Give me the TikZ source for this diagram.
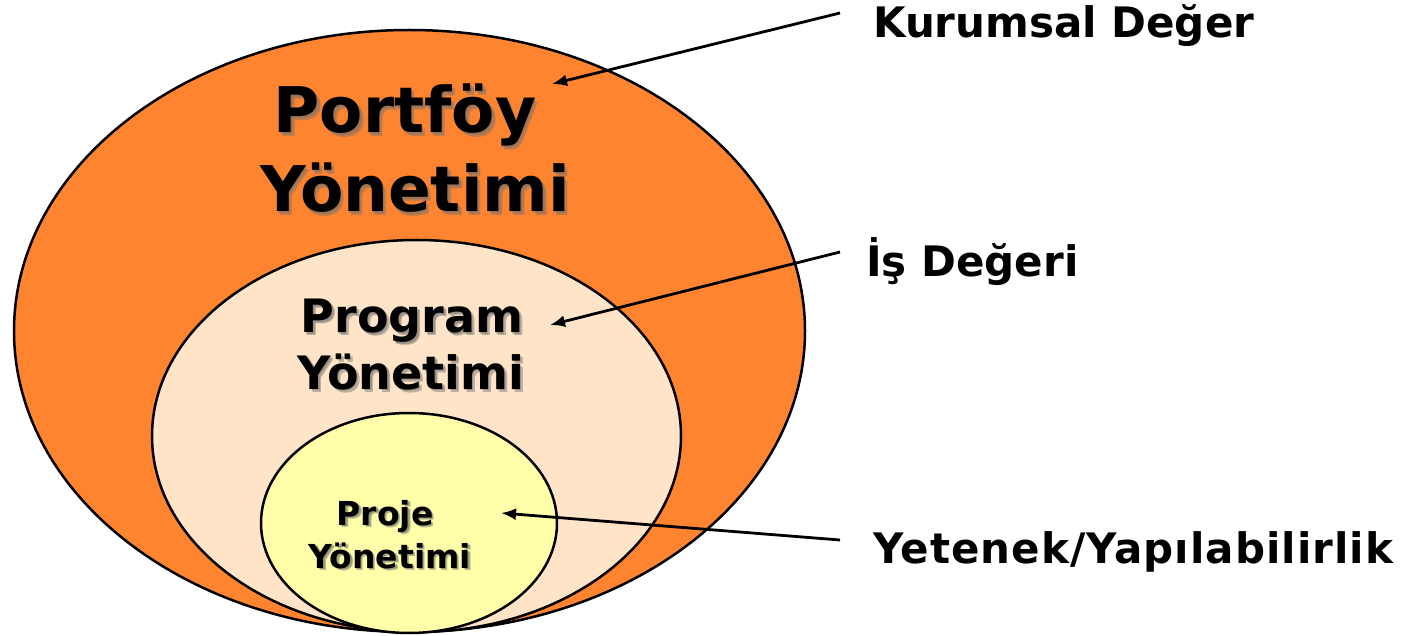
\documentclass[tikz,border=0pt]{standalone}
\usepackage{fontspec}
\setmainfont{DejaVu Sans}
\usetikzlibrary{arrows.meta,shapes.geometric}
\definecolor{orangeF}{RGB}{254,132,48}
\definecolor{peachF}{RGB}{255,228,200}
\definecolor{yellowF}{RGB}{255,255,170}
\definecolor{shadowC}{RGB}{110,110,110}
\tikzset{
  ring/.style={draw=black, line width=2.5pt, ellipse, inner sep=0pt},
  big/.style={font=\bfseries\fontsize{63}{70}\selectfont, anchor=base, inner sep=0pt},
  mid/.style={font=\bfseries\fontsize{46}{52}\selectfont, anchor=base, inner sep=0pt},
  small/.style={font=\bfseries\fontsize{33}{38}\selectfont, anchor=base, inner sep=0pt},
  lab/.style={font=\bfseries\fontsize{42}{48}\selectfont, anchor=base west, inner sep=0pt},
  shd/.style={text=shadowC, opacity=0.45},
  pointer/.style={draw=black, line width=2.8pt, -{Latex[length=15pt,width=12pt]}}
}
\begin{document}
\begin{tikzpicture}[x=1pt,y=-1pt]
\useasboundingbox (0,0) rectangle (1401,636);
% ellipses
\node[ring, fill=orangeF, minimum width=791pt, minimum height=602pt] (outer) at (409.5,331) {};
\node[ring, fill=peachF, minimum width=529pt, minimum height=392pt] (middle) at (416.5,436) {};
\node[ring, fill=yellowF, minimum width=296pt, minimum height=220pt] (inner) at (409,523) {};
% shadows
\node[big,shd] (s1) at (408.5,136.5) {Portföy};
\node[big,shd] (s2) at (418.5,215.5) {Yönetimi};
\node[mid,shd] (s3) at (415,336) {Program};
\node[mid,shd] (s4) at (414,392) {Yönetimi};
\node[small,shd] (s5) at (387.5,527.5) {Proje};
\node[small,shd] (s6) at (392.5,570.5) {Yönetimi};
\node[big,shd] (r1) at (406.5,134.5) {Portföy};
\node[big,shd] (r2) at (416.5,213.5) {Yönetimi};
\node[mid,shd] (r3) at (413.5,334.5) {Program};
\node[mid,shd] (r4) at (412.5,390.5) {Yönetimi};
\node[small,shd] (r5) at (386.5,526.5) {Proje};
\node[small,shd] (r6) at (391.5,569.5) {Yönetimi};
% texts
\node[big] (t1) at (405,133) {Portföy};
\node[big] (t2) at (415,212) {Yönetimi};
\node[mid] (t3) at (412,333) {Program};
\node[mid] (t4) at (411,389) {Yönetimi};
\node[small] (t5) at (385,525) {Proje};
\node[small] (t6) at (390,568) {Yönetimi};
% labels
\node[lab] (l1) at (873,38) {Kurumsal Değer};
\node[lab] (l2) at (866,277) {İş Değeri};
\node[lab] (l3) at (873,563) {\addfontfeature{LetterSpace=2.5}Yetenek/Yapılabilirlik};
% arrows
\coordinate (a1s) at (840,13);
\coordinate (a1e) at (552,84);
\coordinate (a2s) at (840,252);
\coordinate (a2e) at (550,325);
\coordinate (a3s) at (840,540);
\coordinate (a3e) at (501,513);
\draw[pointer] (a1s) -- (a1e);
\draw[pointer] (a2s) -- (a2e);
\draw[pointer] (a3s) -- (a3e);
\end{tikzpicture}
\end{document}
